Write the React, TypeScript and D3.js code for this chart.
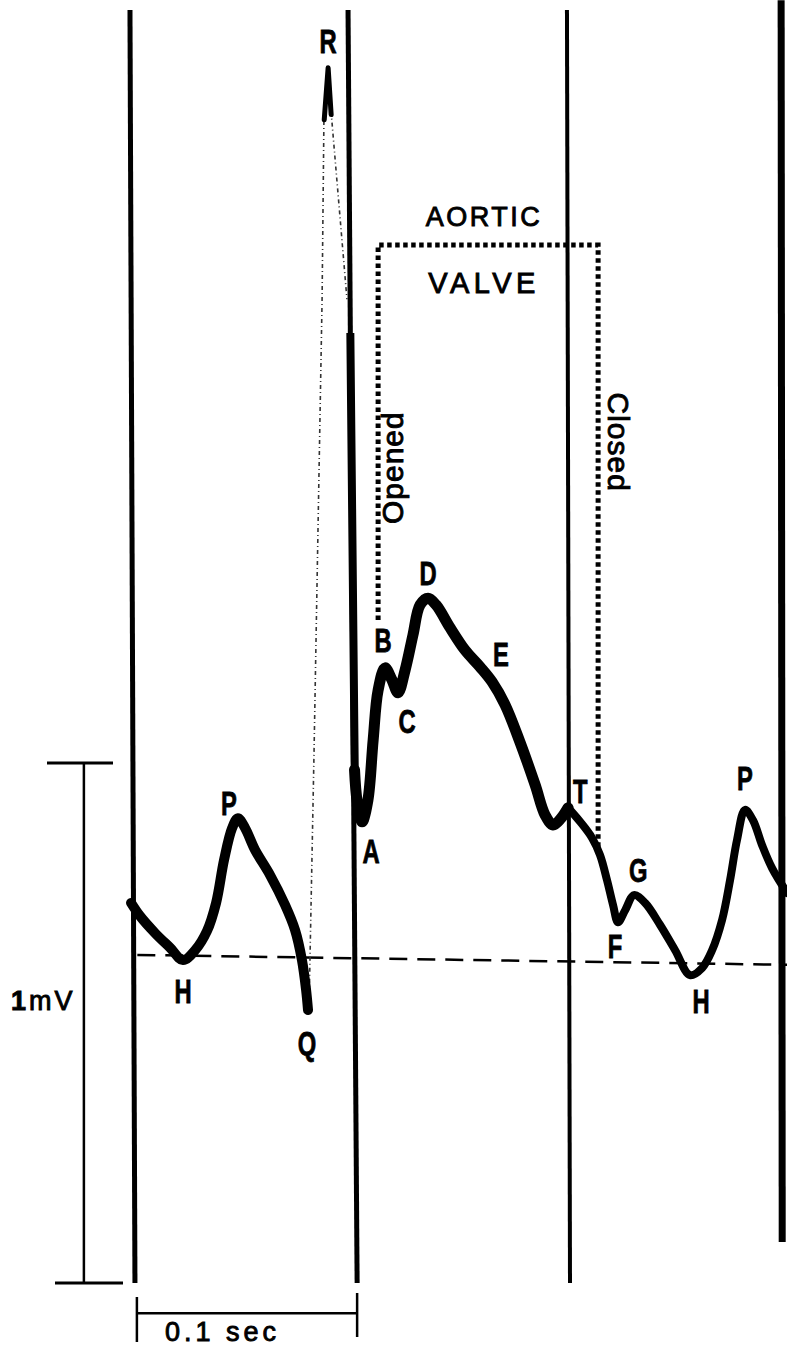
import React, { useEffect, useRef } from "react";
import * as d3 from "d3";

const W = 787;
const H = 1349;

// trace samples, [time in ms from first timing line, mV above baseline]
const traceBefore: [number, number][] = [
  [-0.9, 0.104], [3.2, 0.079], [10.2, 0.046], [17.1, 0.018], [23.1, -0.006],
  [28.7, 0.013], [34.2, 0.05], [38.4, 0.104], [42.1, 0.187], [45.8, 0.248],
  [48.5, 0.267], [51.8, 0.248], [56.4, 0.206], [63.3, 0.158], [70.3, 0.1],
  [74.9, 0.052], [78.1, -0.006], [80.0, -0.063], [80.9, -0.102],
];
const rUpstroke: [number, number][] = [
  [81.4, -0.092], [83.7, 0.398], [87.4, 1.263], [88.3, 1.629], [90.2, 1.71],
];
const rTip: [number, number][] = [[88.4, 1.61], [90.2, 1.71], [91.6, 1.62]];
const rDownstroke: [number, number][] = [[90.2, 1.71], [91.5, 1.629], [98.9, 1.265]];
const traceEjection: [number, number][] = [
  [102.4, 0.36], [103.6, 0.3], [105.9, 0.26], [108.6, 0.302],
  [111.0, 0.417], [113.3, 0.513], [116.5, 0.556], [119.7, 0.533], [122.5, 0.508],
  [125.8, 0.552], [129.4, 0.619], [132.7, 0.677], [136.4, 0.69], [140.1, 0.677],
  [146.6, 0.633], [153.5, 0.59], [160.4, 0.558], [166.0, 0.529], [172.0, 0.485],
  [178.9, 0.413], [185.9, 0.331], [190.5, 0.273], [194.2, 0.254], [197.9, 0.267],
  [201.1, 0.287],
];
const traceAfter: [number, number][] = [
  [201.1, 0.287], [206.7, 0.26], [212.2, 0.229], [215.9, 0.196], [219.1, 0.148],
  [221.9, 0.1], [224.2, 0.067], [227.5, 0.09], [231.6, 0.119], [236.7, 0.104],
  [243.6, 0.062], [250.6, 0.013], [257.5, -0.035], [263.1, -0.021], [267.7, 0.013],
  [272.3, 0.071], [276.0, 0.148], [279.2, 0.225], [282.9, 0.283], [286.6, 0.263],
  [290.8, 0.215], [295.4, 0.171], [302.4, 0.123],
];

// timing lines every 0.1 sec
const gridTopMs = [-1.4, 99.4, 200.6, 299.6];
const gridBottomMs = [0.9, 103.6, 202.0, 300.1];
const gridTopMv = [1.821, 1.821, 1.821, 1.84];
const gridBottomMv = [-0.627, -0.627, -0.627, -0.548];
const gridWidths = [5, 5, 4, 7];

// where the descending R stroke runs along the second timing line
const rMergeMv = [1.2, 0.36];

const baselineMs = [2, 302.4];
const baselineMv = [0.004, -0.015];

const waveLabels = [
  { text: "R", t: 90.2, v: 1.738 },
  { text: "P", t: 44.4, v: 0.273 },
  { text: "H", t: 23.1, v: -0.088 },
  { text: "Q", t: 80.4, v: -0.188 },
  { text: "A", t: 110.0, v: 0.181 },
  { text: "B", t: 115.6, v: 0.587 },
  { text: "C", t: 126.7, v: 0.431 },
  { text: "D", t: 136.4, v: 0.715 },
  { text: "E", t: 170.1, v: 0.56 },
  { text: "T", t: 206.7, v: 0.296 },
  { text: "F", t: 222.8, v: -0.002 },
  { text: "G", t: 233.5, v: 0.144 },
  { text: "H", t: 262.6, v: -0.108 },
  { text: "P", t: 282.9, v: 0.321 },
];

// aortic valve bracket
const valveMs = [113.3, 215.0];
const valveTopMv = 1.369;
const valveEndMv = [0.648, 0.206];

// calibration marks
const mvBarMs = -22.7;
const mvBarMv = [0.373, -0.627];
const secBarMs = [1.8, 103.6];
const secBarMv = -0.685;

export default function App() {
  const ref = useRef<SVGSVGElement>(null);

  useEffect(() => {
    const svg = d3.select(ref.current);
    svg.selectAll("*").remove();

    const x = d3.scaleLinear().domain([0, 300]).range([133, 782]);
    const y = d3.scaleLinear().domain([0, 1]).range([957, 437]);

    const smooth = d3
      .line<[number, number]>()
      .x((d) => x(d[0]))
      .y((d) => y(d[1]))
      .curve(d3.curveCatmullRom.alpha(0.5));
    const straight = d3
      .line<[number, number]>()
      .x((d) => x(d[0]))
      .y((d) => y(d[1]));

    svg.append("rect").attr("width", W).attr("height", H).attr("fill", "#fff");

    // timing lines
    svg
      .selectAll(".grid")
      .data(gridTopMs)
      .join("line")
      .attr("class", "grid")
      .attr("x1", (d) => x(d))
      .attr("x2", (d, i) => x(gridBottomMs[i]))
      .attr("y1", (d, i) => y(gridTopMv[i]))
      .attr("y2", (d, i) => y(gridBottomMv[i]))
      .attr("stroke", "#000")
      .attr("stroke-width", (d, i) => gridWidths[i]);

    // thicker part of line 2 where the R downstroke merges with it
    const lineAt = (v: number) => {
      const f = (gridTopMv[1] - v) / (gridTopMv[1] - gridBottomMv[1]);
      return gridTopMs[1] + f * (gridBottomMs[1] - gridTopMs[1]);
    };
    svg
      .append("path")
      .attr(
        "d",
        straight([
          [lineAt(rMergeMv[0]), rMergeMv[0]],
          [lineAt(rMergeMv[1]) + 0.6, rMergeMv[1]],
          traceEjection[0],
        ])
      )
      .attr("fill", "none")
      .attr("stroke", "#000")
      .attr("stroke-width", 8)
      .attr("stroke-linejoin", "round")
      .attr("stroke-linecap", "butt");

    // baseline
    svg
      .append("line")
      .attr("x1", x(baselineMs[0]))
      .attr("x2", x(baselineMs[1]))
      .attr("y1", y(baselineMv[0]))
      .attr("y2", y(baselineMv[1]))
      .attr("stroke", "#000")
      .attr("stroke-width", 2.5)
      .attr("stroke-dasharray", "18 10");

    // R spike (faint)
    svg
      .selectAll(".rspike")
      .data([rUpstroke, rDownstroke])
      .join("path")
      .attr("class", "rspike")
      .attr("d", (d) => straight(d))
      .attr("fill", "none")
      .attr("stroke", "#333")
      .attr("stroke-width", 1.6)
      .attr("stroke-dasharray", "4 3 1 3");
    svg
      .append("path")
      .attr("d", straight(rTip))
      .attr("fill", "none")
      .attr("stroke", "#000")
      .attr("stroke-width", 5)
      .attr("stroke-linejoin", "round")
      .attr("stroke-linecap", "round");

    // main trace
    const traces = [traceBefore, traceEjection, traceAfter];
    const traceWidths = [10, 11, 8];
    svg
      .selectAll(".trace")
      .data(traces)
      .join("path")
      .attr("class", "trace")
      .attr("d", (d) => smooth(d))
      .attr("fill", "none")
      .attr("stroke", "#000")
      .attr("stroke-width", (d, i) => traceWidths[i])
      .attr("stroke-linejoin", "round")
      .attr("stroke-linecap", "round");

    // aortic valve bracket
    const valvePts: [number, number][] = [
      [valveMs[0], valveEndMv[0]],
      [valveMs[0], valveTopMv],
      [valveMs[1], valveTopMv],
      [valveMs[1], valveEndMv[1]],
    ];
    svg
      .append("path")
      .attr("d", straight(valvePts))
      .attr("fill", "none")
      .attr("stroke", "#000")
      .attr("stroke-width", 5)
      .attr("stroke-dasharray", "4.5 3.5");

    const sans = "'Liberation Sans', Arial, Helvetica, sans-serif";
    const heavy = (sel: d3.Selection<SVGTextElement, unknown, null, undefined>) =>
      sel.attr("stroke", "#000").attr("stroke-width", 0.9).attr("fill", "#000");
    const mid = x((valveMs[0] + valveMs[1]) / 2) - 4;
    svg
      .append("text")
      .attr("x", mid)
      .attr("y", y(1.406))
      .attr("text-anchor", "middle")
      .attr("font-family", sans)
      .attr("font-size", 27)
      .attr("letter-spacing", 2.5)
      .text("AORTIC")
      .call(heavy);
    svg
      .append("text")
      .attr("x", mid)
      .attr("y", y(1.277))
      .attr("text-anchor", "middle")
      .attr("font-family", sans)
      .attr("font-size", 29)
      .attr("letter-spacing", 4.5)
      .text("VALVE")
      .call(heavy);
    svg
      .append("text")
      .attr("transform", `translate(${x(124.8)},${y(0.941)}) rotate(-90)`)
      .attr("text-anchor", "middle")
      .attr("font-family", sans)
      .attr("font-size", 30)
      .attr("letter-spacing", 1)
      .text("Opened")
      .call(heavy);
    svg
      .append("text")
      .attr("transform", `translate(${x(219.6)},${y(0.99)}) rotate(90)`)
      .attr("text-anchor", "middle")
      .attr("font-family", sans)
      .attr("font-size", 30)
      .attr("letter-spacing", 1)
      .text("Closed")
      .call(heavy);

    // wave letters (bold, condensed)
    svg
      .selectAll(".wave")
      .data(waveLabels)
      .join("text")
      .attr("class", "wave")
      .attr("transform", (d) => `translate(${x(d.t)},${y(d.v)}) scale(0.7,1)`)
      .attr("text-anchor", "middle")
      .attr("font-family", sans)
      .attr("font-weight", "bold")
      .attr("font-size", 34)
      .attr("stroke", "#000")
      .attr("stroke-width", 0.8)
      .text((d) => d.text);

    // 1 mV calibration
    const mvX = x(mvBarMs);
    svg
      .append("line")
      .attr("x1", mvX)
      .attr("x2", mvX)
      .attr("y1", y(mvBarMv[0]))
      .attr("y2", y(mvBarMv[1]))
      .attr("stroke", "#000")
      .attr("stroke-width", 2.5);
    svg
      .selectAll(".mvtick")
      .data(mvBarMv)
      .join("line")
      .attr("class", "mvtick")
      .attr("x1", (d, i) => (i === 0 ? 47 : 55))
      .attr("x2", (d, i) => (i === 0 ? 113 : 123))
      .attr("y1", (d) => y(d))
      .attr("y2", (d) => y(d))
      .attr("stroke", "#000")
      .attr("stroke-width", 3);
    const mvText = svg
      .append("text")
      .attr("x", 11)
      .attr("y", y(-0.102))
      .attr("font-family", sans)
      .attr("font-size", 27)
      .attr("letter-spacing", 3)
      .call(heavy);
    mvText.append("tspan").attr("font-weight", "bold").text("1");
    mvText.append("tspan").text("mV");

    // 0.1 sec calibration
    svg
      .append("line")
      .attr("x1", x(secBarMs[0]))
      .attr("x2", x(secBarMs[1]))
      .attr("y1", y(secBarMv))
      .attr("y2", y(secBarMv))
      .attr("stroke", "#000")
      .attr("stroke-width", 2.5);
    svg
      .selectAll(".sectick")
      .data(secBarMs)
      .join("line")
      .attr("class", "sectick")
      .attr("x1", (d) => x(d))
      .attr("x2", (d) => x(d))
      .attr("y1", (d, i) => (i === 0 ? 1297 : 1293))
      .attr("y2", (d, i) => (i === 0 ? 1342 : 1337))
      .attr("stroke", "#000")
      .attr("stroke-width", 2.5);
    svg
      .append("text")
      .attr("x", 165)
      .attr("y", 1341)
      .attr("font-family", sans)
      .attr("font-size", 27)
      .attr("letter-spacing", 4)
      .text("0.1 sec")
      .call(heavy);
  }, []);

  return (
    <svg
      ref={ref}
      width={W}
      height={H}
      style={{ position: "absolute", left: 0, top: 0, display: "block" }}
    />
  );
}
